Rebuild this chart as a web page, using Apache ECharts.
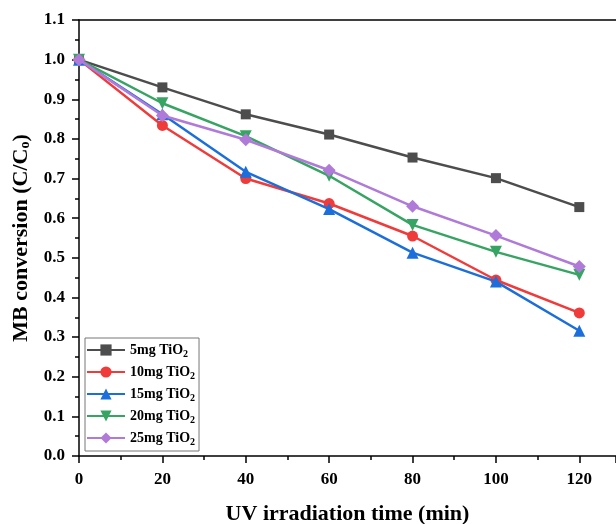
<!DOCTYPE html>
<html><head><meta charset="utf-8">
<script src="https://cdn.jsdelivr.net/npm/echarts@6/dist/echarts.min.js"></script>
<style>html,body{margin:0;padding:0;background:#fff}#c{width:616px;height:524px}</style>
</head><body><div id="c"></div>
<script>
const times = [0, 20, 40, 60, 80, 100, 120];
const seriesNames = ['5mg', '10mg', '15mg', '20mg', '25mg'];
const s5 = [1.0, 0.930, 0.862, 0.811, 0.753, 0.701, 0.628];
const s10 = [1.0, 0.834, 0.700, 0.637, 0.555, 0.444, 0.361];
const s15 = [1.0, 0.862, 0.717, 0.623, 0.513, 0.440, 0.316];
const s20 = [1.0, 0.890, 0.807, 0.707, 0.583, 0.515, 0.457];
const s25 = [1.0, 0.859, 0.798, 0.721, 0.630, 0.556, 0.478];
const values = [s5, s10, s15, s20, s25];
const colors = ['#4d4d4d', '#f03b3b', '#1c6fdb', '#37a463', '#b07ad9'];
const symbols = ['rect', 'circle', 'triangle', 'path://M0,0 L10,0 L5,9 Z', 'diamond'];
const symSizes = [10, 11, 12, 12, 13];
const serif = '"Liberation Serif", "Times New Roman", serif';

const tickStyle = { color: '#000', width: 1.5 };
const chart = echarts.init(document.getElementById('c'));
chart.setOption({
  animation: false,
  backgroundColor: '#fff',
  grid: { left: 79, right: 0, top: 20, bottom: 68, containLabel: false, outerBoundsMode: 'none' },
  legend: {
    left: 85, top: 338, orient: 'vertical', itemGap: 6, itemWidth: 38, itemHeight: 14,
    backgroundColor: '#fff', borderColor: '#777', borderWidth: 1, padding: [5, 4, 4, 1],
    data: seriesNames,
    formatter: n => '{a|' + n + ' TiO}{s|2}',
    textStyle: { fontFamily: serif, fontWeight: 'bold', color: '#000',
      rich: { a: { fontFamily: serif, fontWeight: 'bold', fontSize: 14, color: '#000' },
              s: { fontFamily: serif, fontWeight: 'bold', fontSize: 10, color: '#000', padding: [8, 0, 0, 0] } } }
  },
  xAxis: [{
    type: 'value', min: 0, max: 128.8, interval: 20,
    axisLine: { show: true, onZero: false, lineStyle: tickStyle },
    axisTick: { show: true, inside: false, length: 7, lineStyle: tickStyle },
    minorTick: { show: true, splitNumber: 2, length: 4, lineStyle: tickStyle },
    splitLine: { show: false },
    axisLabel: { fontFamily: serif, fontWeight: 'bold', fontSize: 17, color: '#000', margin: 15,
      showMaxLabel: false, formatter: v => v > 120 ? '' : String(v) },
    name: 'UV irradiation time (min)', nameLocation: 'middle', nameGap: 47,
    nameTextStyle: { fontFamily: serif, fontWeight: 'bold', fontSize: 22, color: '#000' }
  }, {
    type: 'value', position: 'top', min: 0, max: 128.8,
    axisLine: { show: true, onZero: false, lineStyle: tickStyle },
    axisTick: { show: false }, axisLabel: { show: false }, splitLine: { show: false }
  }],
  yAxis: {
    type: 'value', min: 0, max: 1.1, interval: 0.1,
    axisLine: { show: true, onZero: false, lineStyle: tickStyle },
    axisTick: { show: true, inside: false, length: 7, lineStyle: tickStyle },
    minorTick: { show: true, splitNumber: 2, length: 4, lineStyle: tickStyle },
    splitLine: { show: false },
    axisLabel: { fontFamily: serif, fontWeight: 'bold', fontSize: 17, color: '#000', margin: 14,
      formatter: v => v.toFixed(1) },
    name: '{a|MB conversion (C/C}{s|o}{a|)}', nameLocation: 'middle', nameGap: 44,
    nameTextStyle: { fontFamily: serif, fontWeight: 'bold', fontSize: 22, color: '#000',
      rich: { a: { fontFamily: serif, fontWeight: 'bold', fontSize: 22, color: '#000' },
              s: { fontFamily: serif, fontWeight: 'bold', fontSize: 14, color: '#000', padding: [9, 0, 0, 0] } } }
  },
  series: seriesNames.map((n, i) => ({
    name: n, type: 'line',
    data: times.map((t, j) => [t, values[i][j]]),
    symbol: symbols[i], symbolSize: symSizes[i],
    lineStyle: { color: colors[i], width: 2.5 },
    itemStyle: { color: colors[i] },
    z: 2 + i
  }))
});
</script></body></html>
